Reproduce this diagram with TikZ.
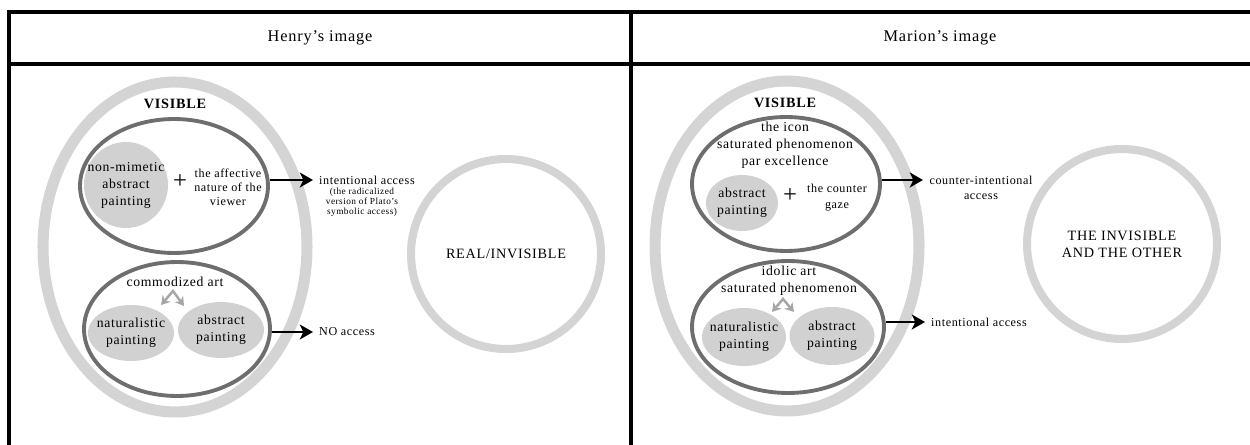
\documentclass[tikz,border=0pt]{standalone}
\usepackage{fontspec}
\setmainfont[LetterSpace=5]{Liberation Serif}
\usetikzlibrary{shapes.geometric,arrows.meta}
\newcommand\lbfont{\fontsize{7.8}{9.7}\selectfont}
\newcommand\smfont{\fontsize{6.9}{8.5}\selectfont}
\newcommand\tnfont{\fontsize{5.3}{5.8}\selectfont}
\newcommand\capfont{\fontsize{8.1}{9.7}\selectfont}
\newcommand\plusfont{\fontsize{14}{14}\selectfont}
\begin{document}
\begin{tikzpicture}[x=0.02cm,y=-0.02cm,
  frame/.style={line width=2pt},
  visible/.style={ellipse,draw=black!17,line width=6.3pt,minimum width=5.28cm,minimum height=6.6cm,inner sep=0},
  inner/.style={ellipse,draw=black!57,line width=2.2pt,minimum width=3.76cm,minimum height=2.68cm,inner sep=0},
  blob/.style={ellipse,fill=black!18,inner sep=0},
  invis/.style={circle,draw=black!17,line width=4.6pt,minimum size=3.8cm,inner sep=0,align=center,font=\capfont},
  acc/.style={line width=1.7pt,-{Stealth[length=7.5pt,width=8.5pt,inset=2pt]}},
  chev/.style={draw=black!35,line width=1.4pt,{Stealth[length=5pt,width=6pt]}-{Stealth[length=5pt,width=6pt]}},
  txt/.style={align=center,font=\lbfont},
  plus/.style={font=\plusfont,inner sep=0}]
  \useasboundingbox (0,0) rectangle (1250,445);
  \draw[frame] (9,445) -- (9,12) -- (1250,12);
  \draw[frame] (9,64) -- (1250,64);
  \draw[frame] (631,12) -- (631,445);
  \node[font=\fontsize{9.3}{11}\selectfont] (htitle) at (320,38) {Henry’s image};
  \node[font=\fontsize{9.3}{11}\selectfont] (mtitle) at (940,38) {Marion’s image};

  \node[visible] (hvis) at (175,247) {};
  \node[font=\capfont\bfseries] (hvislab) at (175,104) {VISIBLE};
  \node[inner] (htop) at (174,186) {};
  \node[blob,minimum width=1.68cm,minimum height=1.72cm] (hnon) at (126,185) {};
  \node[txt] (hnontxt) at (hnon) {non-mimetic\\abstract\\painting};
  \node[plus] (hplus) at (180,182) {+};
  \node[align=center,font=\fontsize{6.9}{8}\selectfont] (haff) at (228,187) {the affective\\nature of the\\viewer};
  \node[anchor=west,font=\smfont] (hint) at (313,180) {intentional access};
  \node[align=center,font=\tnfont] (hplato) at (362,202) {(the radicalized\\version of Plato’s\\symbolic access)};
  \draw[acc] (htop.east |- hint.west) -- (hint.west);
  \node[inner,minimum width=3.72cm] (hbot) at (177,329) {};
  \node[txt] (hcom) at (175,282) {commodized art};
  \node[blob,minimum width=1.72cm,minimum height=1.12cm] (hnat) at (131,333) {};
  \node[txt] (hnattxt) at (hnat) {naturalistic\\painting};
  \node[blob,minimum width=1.72cm,minimum height=1.12cm] (habs) at (221,330) {};
  \node[txt] (habstxt) at (habs) {abstract\\painting};
  \coordinate (hpk) at (173,291);
  \coordinate (hl) at (161,305);
  \coordinate (hr) at (184,306);
  \draw[chev] (hl) -- (hpk) -- (hr);
  \node[anchor=west,font=\smfont] (hno) at (313,332) {NO access};
  \draw[acc] (hbot.east |- hno.west) -- (hno.west);
  \node[invis] (hreal) at (506,254) {REAL/INVISIBLE};

  \node[visible] (mvis) at (787,246) {};
  \node[font=\capfont\bfseries] (mvislab) at (785,103) {VISIBLE};
  \node[inner] (mtop) at (786,184) {};
  \node[txt] (micon) at (785,145) {the icon\\saturated phenomenon\\par excellence};
  \node[blob,minimum width=1.44cm,minimum height=1.12cm] (mabs1) at (742,203) {};
  \node[txt] (mabs1txt) at (mabs1) {abstract\\painting};
  \node[plus] (mplus) at (790,196) {+};
  \node[align=center,font=\fontsize{6.9}{9}\selectfont] (mgaze) at (837,198) {the counter\\gaze};
  \node[align=center,font=\smfont] (mcount) at (981,188) {counter-intentional\\access};
  \coordinate (mcend) at (923,180);
  \draw[acc] (mtop.east |- mcend) -- (mcend);
  \node[inner,minimum width=3.84cm,minimum height=2.64cm] (mbot) at (788,327) {};
  \node[txt] (midol) at (789,281) {idolic art\\saturated phenomenon};
  \node[blob,minimum width=1.68cm,minimum height=1.16cm] (mnat) at (744,337) {};
  \node[txt] (mnattxt) at (mnat) {naturalistic\\painting};
  \node[blob,minimum width=1.7cm,minimum height=1.16cm] (mabs2) at (832,336) {};
  \node[txt] (mabs2txt) at (mabs2) {abstract\\painting};
  \coordinate (mpk) at (783,299);
  \coordinate (ml) at (772,312);
  \coordinate (mr) at (794,312);
  \draw[chev] (ml) -- (mpk) -- (mr);
  \node[anchor=west,font=\smfont] (mint) at (925,322) {intentional access};
  \draw[acc] (mbot.east |- mint.west) -- (mint.west);
  \node[invis] (mother) at (1122,244) {THE INVISIBLE\\AND THE OTHER};
\end{tikzpicture}
\end{document}
